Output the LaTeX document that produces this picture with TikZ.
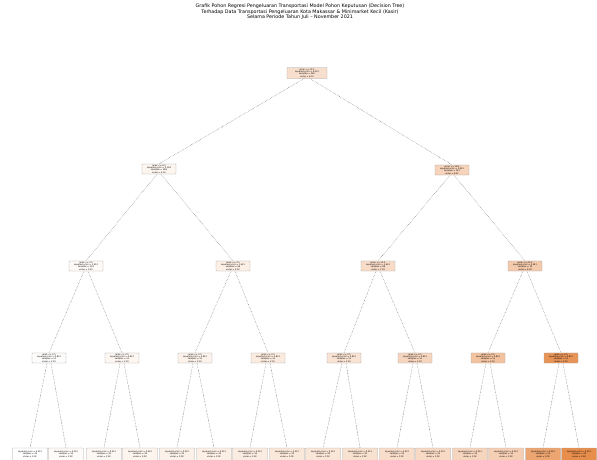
\documentclass[tikz,border=0pt]{standalone}
\usepackage{fontspec}
\setmainfont{DejaVu Sans}
\begin{document}
\begin{tikzpicture}[x=1pt,y=-1pt,
  tn/.style={draw=gray!70,line width=0.25pt,rounded corners=0.6pt,inner sep=0.6pt,
    font=\fontsize{2.1}{2.4}\selectfont,align=center,minimum width=34pt,minimum height=10pt},
  lf/.style={tn,minimum width=35pt,minimum height=14pt},
  edge/.style={draw=black!55,line width=0.65pt,line cap=round,dash pattern=on 0pt off 1.5pt}]
\useasboundingbox (0,0) rectangle (597,459);
\clip (0,0) rectangle (597,459);
\definecolor{ora}{HTML}{E58139}
% title
\node[font=\fontsize{4.8}{5.6}\selectfont,align=center] (title) at (300,12)
 {Grafik Pohon Regresi Pengeluaran Transportasi Model Pohon Keputusan (Decision Tree)\\
  Terhadap Data Transportasi Pengeluaran Kota Makassar \& Minimarket Kecil (Kasir)\\
  Selama Periode Tahun Juli – November 2021};
% root
\node[tn,fill=ora!25!white,minimum width=40pt,minimum height=11pt] (n0) at (307,73)
 {jarak \textless= 12.5\\squared\_error = 4.215\\samples = 365\\value = 6.12};
% level 1
\node[tn,fill=ora!8!white] (n1) at (159,169) {jarak \textless= 6.5\\squared\_error = 2.104\\samples = 198\\value = 4.35};
\node[tn,fill=ora!35!white] (n2) at (452,170) {jarak \textless= 18.5\\squared\_error = 3.021\\samples = 167\\value = 8.21};
% level 2
\node[tn,fill=ora!4!white] (n3) at (86,266) {jarak \textless= 3.5\\squared\_error = 1.012\\samples = 102\\value = 3.25};
\node[tn,fill=ora!13!white] (n4) at (233,266) {jarak \textless= 9.5\\squared\_error = 1.431\\samples = 96\\value = 5.52};
\node[tn,fill=ora!28!white] (n5) at (378,266) {jarak \textless= 15.5\\squared\_error = 1.612\\samples = 88\\value = 7.34};
\node[tn,fill=ora!42!white] (n6) at (525,266) {jarak \textless= 22.5\\squared\_error = 2.341\\samples = 79\\value = 9.18};
% level 3
\foreach \nm/\x/\p in {n7/49/2,n8/122/7,n9/195/10,n10/268/16,n11/344/22,n12/415/33,n13/488/48,n14/561/85}{
  \node[tn,fill=ora!\p!white] (\nm) at (\x,358) {jarak \textless= 2.5\\squared\_error = 0.812\\samples = 51\\value = 3.10};
}
% leaves
\foreach \nm/\x/\p in {n15/30/0,n16/66/3,n17/104/6,n18/140/9,n19/177/11,n20/214/13,n21/250/15,n22/287/18,
  n23/323/20,n24/360/24,n25/397/27,n26/433/30,n27/470/33,n28/506/38,n29/543/72,n30/579/90}{
  \node[lf,fill=ora!\p!white] (\nm) at (\x,455) {squared\_error = 0.512\\samples = 25\\value = 3.02\\ };
}
% edges
\foreach \a/\b/\s in {n0/n1/-3,n0/n2/3,n1/n3/-2,n1/n4/2,n2/n5/-2,n2/n6/2,
  n3/n7/-2,n3/n8/2,n4/n9/-2,n4/n10/2,n5/n11/-2,n5/n12/2,n6/n13/-2,n6/n14/2,
  n7/n15/-2,n7/n16/2,n8/n17/-2,n8/n18/2,n9/n19/-2,n9/n20/2,n10/n21/-2,n10/n22/2,
  n11/n23/-2,n11/n24/2,n12/n25/-2,n12/n26/2,n13/n27/-2,n13/n28/2,n14/n29/-2,n14/n30/2}{
  \draw[edge] ([xshift=\s pt]\a.south) -- (\b.north);
}
\end{tikzpicture}
\end{document}
